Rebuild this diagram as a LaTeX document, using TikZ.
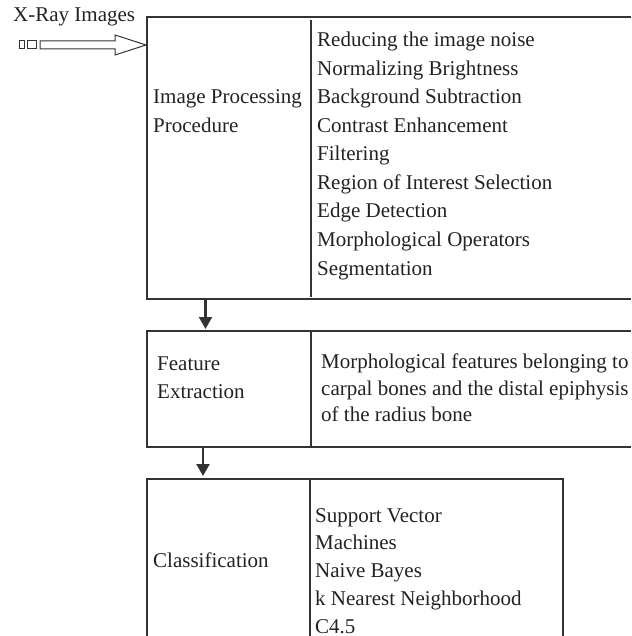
\documentclass[tikz,border=0pt]{standalone}
\usepackage{fontspec}
\setmainfont{Liberation Serif}
\usetikzlibrary{arrows.meta}
\definecolor{ln}{HTML}{333333}
\definecolor{tx}{HTML}{222222}
\begin{document}
\begin{tikzpicture}[x=1pt,y=-1pt,
  lbl/.style={anchor=base west,inner sep=0pt,text=tx,font=\fontsize{21}{24}\selectfont},
  boxline/.style={draw=ln,line width=1.1pt},
  flow/.style={draw=ln,line width=2.2pt,-{Triangle[length=12pt,width=13pt]}}]
\useasboundingbox (0,0) rectangle (631,636);
% input hollow arrow
\node[lbl] (xray) at (13,21.5) {X-Ray Images};
\draw[boxline,line width=1pt,fill=white] (19,41) rectangle (24,49);
\draw[boxline,line width=1pt,fill=white] (27,41) rectangle (36,49);
\draw[boxline,line width=1pt,fill=white] (40,41) -- (115,41) -- (115,35) -- (146,45) -- (115,55) -- (115,49) -- (40,49) -- cycle;
% box 1
\draw[boxline] (631,17) -- (147,17) -- (147,299) -- (631,299);
\draw[boxline] (311,20) -- (311,297);
\node[lbl] (ip1) at (153,104) {Image Processing};
\node[lbl] (ip2) at (153,132.5) {Procedure};
\node[lbl] (r1) at (317,47) {Reducing the image noise};
\node[lbl] (r2) at (317,75.5) {Normalizing Brightness};
\node[lbl] (r3) at (317,104) {Background Subtraction};
\node[lbl] (r4) at (317,132.5) {Contrast Enhancement};
\node[lbl] (r5) at (317,161) {Filtering};
\node[lbl] (r6) at (317,189.5) {Region of Interest Selection};
\node[lbl] (r7) at (317,218) {Edge Detection};
\node[lbl] (r8) at (317,246.5) {Morphological Operators};
\node[lbl] (r9) at (317,275) {Segmentation};
% box 2
\draw[boxline] (631,331) -- (147,331) -- (147,447) -- (631,447);
\draw[boxline] (311,331) -- (311,447);
\node[lbl] (fe1) at (157,370) {Feature};
\node[lbl] (fe2) at (157,398) {Extraction};
\node[lbl] (m1) at (321,368) {Morphological features belonging to};
\node[lbl] (m2) at (321,395) {carpal bones and the distal epiphysis};
\node[lbl] (m3) at (321,421) {of the radius bone};
% box 3
\draw[boxline] (147,640) -- (147,479) -- (563,479) -- (563,640);
\draw[boxline] (310,479) -- (310,640);
\node[lbl] (cl) at (153,567) {Classification};
\node[lbl] (c1) at (315,522) {Support Vector};
\node[lbl] (c2) at (315,549.5) {Machines};
\node[lbl] (c3) at (315,577) {Naive Bayes};
\node[lbl] (c4) at (315,605) {k Nearest Neighborhood};
\node[lbl] (c5) at (315,633) {C4.5};
% flow arrows
\coordinate (a1s) at (205.5,299);
\coordinate (a1e) at (205.5,329);
\coordinate (a2s) at (203,447);
\coordinate (a2e) at (203,476);
\draw[flow] (a1s) -- (a1e);
\draw[flow] (a2s) -- (a2e);
\end{tikzpicture}
\end{document}
